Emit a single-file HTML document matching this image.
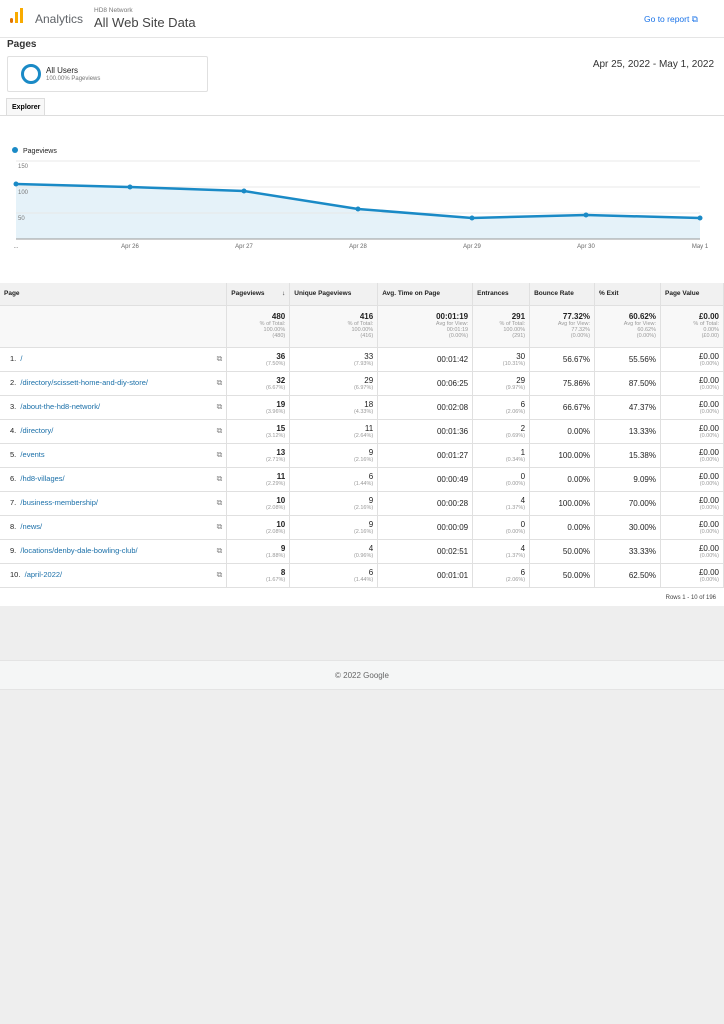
<!DOCTYPE html>
<html><head><meta charset="utf-8"><style>
*{margin:0;padding:0;box-sizing:border-box}
body{width:724px;height:1024px;background:#eeeeee;font-family:"Liberation Sans",Arial,sans-serif;position:relative;overflow:hidden}
.abs{position:absolute}
table{border-collapse:collapse;position:absolute;left:0;top:283px;width:724px;font-size:7px;color:#222}
td,th{border-right:1px solid #e0e0e0;border-bottom:1px solid #e0e0e0;padding:0 4px;vertical-align:middle}
th{background:#f1f1f1;height:22px;font-weight:bold;text-align:left;font-size:6.5px}
.tot td{background:#f8f8f8;height:42px;text-align:right;vertical-align:top;padding-top:6px}
.r td{height:24px;text-align:right;background:#fff}
.r td.p{text-align:left;color:#1a6fa8;font-size:7.5px;padding-left:10px}
b{font-size:8px;color:#222}
.s{color:#999;font-size:5.5px;line-height:6px}
.n{font-size:8px}
.ic{float:right;color:#888;font-size:8px}
</style></head><body>
<div class="abs" style="left:0;top:0;width:724px;height:606px;background:#fff"></div>
<div class="abs" style="left:10px;top:18px;width:3px;height:5px;background:#e37400;border-radius:2px"></div>
<div class="abs" style="left:15px;top:12px;width:3px;height:11px;background:#f9ab00"></div>
<div class="abs" style="left:20px;top:8px;width:3px;height:15px;background:#f9ab00"></div>
<div class="abs" style="left:35px;top:12px;font-size:12px;color:#5f6368">Analytics</div>
<div class="abs" style="left:94px;top:7px;font-size:6.5px;color:#777">HD8 Network</div>
<div class="abs" style="left:94px;top:15px;font-size:13px;color:#444">All Web Site Data</div>
<div class="abs" style="left:644px;top:14px;font-size:8.5px;color:#1a73e8">Go to report ⧉</div>
<div class="abs" style="left:0;top:37px;width:724px;height:1px;background:#e5e5e5"></div>
<div class="abs" style="left:7px;top:39px;font-size:10px;font-weight:bold;color:#333">Pages</div>
<div class="abs" style="left:7px;top:56px;width:201px;height:36px;border:1px solid #e0e0e0;border-radius:2px"></div>
<div class="abs" style="left:21px;top:64px;width:20px;height:20px;border:3px solid #1a8ac6;border-radius:50%"></div>
<div class="abs" style="left:46px;top:66px;font-size:8px;color:#222">All Users</div>
<div class="abs" style="left:46px;top:76px;font-size:6px;color:#777">100.00% Pageviews</div>
<div class="abs" style="right:10px;top:59px;font-size:10px;color:#333;white-space:nowrap">Apr 25, 2022 - May 1, 2022</div>
<div class="abs" style="left:6px;top:98px;width:39px;height:18px;border:1px solid #ddd;border-bottom:none;background:#f8f8f8;font-size:7px;font-weight:bold;padding:5px 0 0 5px">Explorer</div>
<div class="abs" style="left:0;top:115px;width:724px;height:1px;background:#ddd"></div>
<svg class="abs" style="left:0;top:140px" width="724" height="140">
<circle cx="15" cy="10" r="3" fill="#1a8ac6"/>
<text x="23" y="13" font-size="7" fill="#222">Pageviews</text>
<polygon points="16,44 130,47 244,51 358,69 472,78 586,75 700,78 700,99 16,99" fill="#e5f2f9"/>
<g stroke="#e8e8e8" stroke-width="1"><line x1="16" y1="21" x2="700" y2="21"/><line x1="16" y1="47" x2="700" y2="47"/><line x1="16" y1="73" x2="700" y2="73"/></g>
<g font-size="6" fill="#777"><text x="18" y="28">150</text><text x="18" y="54">100</text><text x="18" y="80">50</text></g>
<line x1="16" y1="99" x2="700" y2="99" stroke="#999"/>
<polyline points="16,44 130,47 244,51 358,69 472,78 586,75 700,78" fill="none" stroke="#1a8ac6" stroke-width="2.5"/>
<g fill="#1a8ac6"><circle cx="16" cy="44" r="2.5"/><circle cx="130" cy="47" r="2.5"/><circle cx="244" cy="51" r="2.5"/><circle cx="358" cy="69" r="2.5"/><circle cx="472" cy="78" r="2.5"/><circle cx="586" cy="75" r="2.5"/><circle cx="700" cy="78" r="2.5"/></g>
<g font-size="6" fill="#666" text-anchor="middle"><text x="16" y="108">...</text><text x="130" y="108">Apr 26</text><text x="244" y="108">Apr 27</text><text x="358" y="108">Apr 28</text><text x="472" y="108">Apr 29</text><text x="586" y="108">Apr 30</text><text x="700" y="108">May 1</text></g>
</svg>
<table>
<colgroup><col style="width:227px"><col style="width:63px"><col style="width:88px"><col style="width:95px"><col style="width:57px"><col style="width:65px"><col style="width:66px"><col style="width:63px"></colgroup>
<tr><th>Page</th><th>Pageviews <span style="float:right">↓</span></th><th>Unique Pageviews</th><th>Avg. Time on Page</th><th>Entrances</th><th>Bounce Rate</th><th>% Exit</th><th>Page Value</th></tr>
<tr class="tot"><td></td>
<td><b>480</b><div class="s">% of Total:<br>100.00%<br>(480)</div></td>
<td><b>416</b><div class="s">% of Total:<br>100.00%<br>(416)</div></td>
<td><b>00:01:19</b><div class="s">Avg for View:<br>00:01:19<br>(0.00%)</div></td>
<td><b>291</b><div class="s">% of Total:<br>100.00%<br>(291)</div></td>
<td><b>77.32%</b><div class="s">Avg for View:<br>77.32%<br>(0.00%)</div></td>
<td><b>60.62%</b><div class="s">Avg for View:<br>60.62%<br>(0.00%)</div></td>
<td><b>£0.00</b><div class="s">% of Total:<br>0.00%<br>(£0.00)</div></td></tr>
<tr class="r"><td class="p"><span style="color:#222">1.</span>&nbsp; /<span class="ic">⧉</span></td><td><b>36</b><div class="s">(7.50%)</div></td><td class="n">33<div class="s">(7.93%)</div></td><td class="n">00:01:42</td><td class="n">30<div class="s">(10.31%)</div></td><td class="n">56.67%</td><td class="n">55.56%</td><td class="n">£0.00<div class="s">(0.00%)</div></td></tr>
<tr class="r"><td class="p"><span style="color:#222">2.</span>&nbsp; /directory/scissett-home-and-diy-store/<span class="ic">⧉</span></td><td><b>32</b><div class="s">(6.67%)</div></td><td class="n">29<div class="s">(6.97%)</div></td><td class="n">00:06:25</td><td class="n">29<div class="s">(9.97%)</div></td><td class="n">75.86%</td><td class="n">87.50%</td><td class="n">£0.00<div class="s">(0.00%)</div></td></tr>
<tr class="r"><td class="p"><span style="color:#222">3.</span>&nbsp; /about-the-hd8-network/<span class="ic">⧉</span></td><td><b>19</b><div class="s">(3.96%)</div></td><td class="n">18<div class="s">(4.33%)</div></td><td class="n">00:02:08</td><td class="n">6<div class="s">(2.06%)</div></td><td class="n">66.67%</td><td class="n">47.37%</td><td class="n">£0.00<div class="s">(0.00%)</div></td></tr>
<tr class="r"><td class="p"><span style="color:#222">4.</span>&nbsp; /directory/<span class="ic">⧉</span></td><td><b>15</b><div class="s">(3.12%)</div></td><td class="n">11<div class="s">(2.64%)</div></td><td class="n">00:01:36</td><td class="n">2<div class="s">(0.69%)</div></td><td class="n">0.00%</td><td class="n">13.33%</td><td class="n">£0.00<div class="s">(0.00%)</div></td></tr>
<tr class="r"><td class="p"><span style="color:#222">5.</span>&nbsp; /events<span class="ic">⧉</span></td><td><b>13</b><div class="s">(2.71%)</div></td><td class="n">9<div class="s">(2.16%)</div></td><td class="n">00:01:27</td><td class="n">1<div class="s">(0.34%)</div></td><td class="n">100.00%</td><td class="n">15.38%</td><td class="n">£0.00<div class="s">(0.00%)</div></td></tr>
<tr class="r"><td class="p"><span style="color:#222">6.</span>&nbsp; /hd8-villages/<span class="ic">⧉</span></td><td><b>11</b><div class="s">(2.29%)</div></td><td class="n">6<div class="s">(1.44%)</div></td><td class="n">00:00:49</td><td class="n">0<div class="s">(0.00%)</div></td><td class="n">0.00%</td><td class="n">9.09%</td><td class="n">£0.00<div class="s">(0.00%)</div></td></tr>
<tr class="r"><td class="p"><span style="color:#222">7.</span>&nbsp; /business-membership/<span class="ic">⧉</span></td><td><b>10</b><div class="s">(2.08%)</div></td><td class="n">9<div class="s">(2.16%)</div></td><td class="n">00:00:28</td><td class="n">4<div class="s">(1.37%)</div></td><td class="n">100.00%</td><td class="n">70.00%</td><td class="n">£0.00<div class="s">(0.00%)</div></td></tr>
<tr class="r"><td class="p"><span style="color:#222">8.</span>&nbsp; /news/<span class="ic">⧉</span></td><td><b>10</b><div class="s">(2.08%)</div></td><td class="n">9<div class="s">(2.16%)</div></td><td class="n">00:00:09</td><td class="n">0<div class="s">(0.00%)</div></td><td class="n">0.00%</td><td class="n">30.00%</td><td class="n">£0.00<div class="s">(0.00%)</div></td></tr>
<tr class="r"><td class="p"><span style="color:#222">9.</span>&nbsp; /locations/denby-dale-bowling-club/<span class="ic">⧉</span></td><td><b>9</b><div class="s">(1.88%)</div></td><td class="n">4<div class="s">(0.96%)</div></td><td class="n">00:02:51</td><td class="n">4<div class="s">(1.37%)</div></td><td class="n">50.00%</td><td class="n">33.33%</td><td class="n">£0.00<div class="s">(0.00%)</div></td></tr>
<tr class="r"><td class="p"><span style="color:#222">10.</span>&nbsp; /april-2022/<span class="ic">⧉</span></td><td><b>8</b><div class="s">(1.67%)</div></td><td class="n">6<div class="s">(1.44%)</div></td><td class="n">00:01:01</td><td class="n">6<div class="s">(2.06%)</div></td><td class="n">50.00%</td><td class="n">62.50%</td><td class="n">£0.00<div class="s">(0.00%)</div></td></tr>
</table>
<div class="abs" style="right:8px;top:595px;font-size:6px;color:#444">Rows 1 - 10 of 196</div>
<div class="abs" style="left:0;top:660px;width:724px;height:30px;background:#f5f6f6;border-top:1px solid #e4e4e4;border-bottom:1px solid #e4e4e4;text-align:center;font-size:8px;color:#666;line-height:30px">© 2022 Google</div>
</body></html>
